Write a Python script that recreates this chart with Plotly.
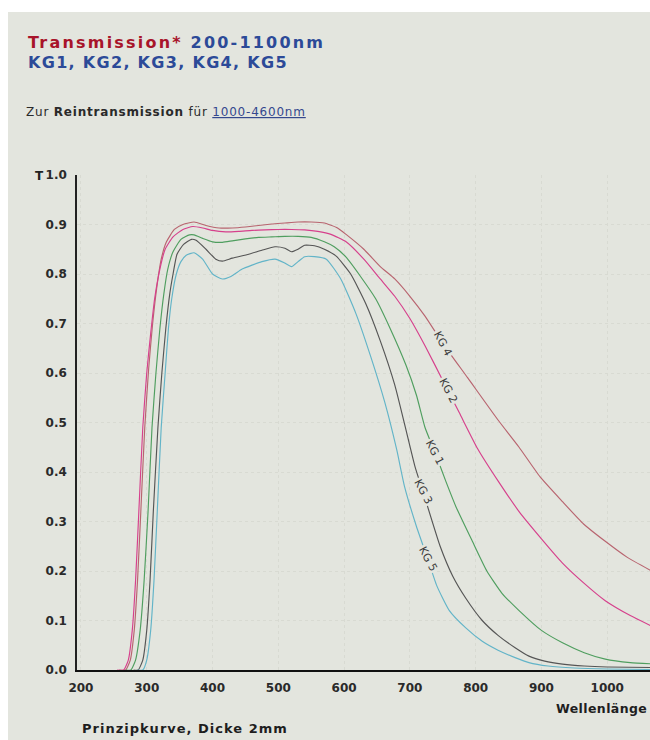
import numpy as np
import plotly.graph_objects as go

# ---------------- data ----------------
kg2_wl = [255, 265, 272, 278, 283, 288, 294, 300, 306, 312, 320, 328, 340, 355, 370, 385, 400, 420, 440, 460, 480,
          500, 520, 540, 560, 580, 603, 630, 655, 677, 700, 723, 750, 775, 803, 835, 866, 900, 932, 965, 997, 1035, 1073]
kg2_t = [0, 0, 0.02, 0.08, 0.18, 0.32, 0.49, 0.60, 0.68, 0.75, 0.81, 0.85, 0.875, 0.89, 0.896, 0.893, 0.888, 0.885,
         0.886, 0.888, 0.889, 0.89, 0.89, 0.889, 0.886, 0.88, 0.865, 0.83, 0.79, 0.755, 0.71, 0.655, 0.585, 0.52, 0.447,
         0.38, 0.32, 0.265, 0.216, 0.175, 0.14, 0.11, 0.085]

kg4_wl = [258, 268, 275, 281, 286, 291, 297, 303, 309, 315, 322, 330, 342, 355, 372, 390, 410, 430, 450, 470, 490,
          510, 530, 550, 570, 590, 603, 630, 655, 677, 700, 723, 750, 788, 834, 866, 898, 932, 964, 997, 1030, 1073]
kg4_t = [0, 0, 0.02, 0.08, 0.18, 0.32, 0.49, 0.61, 0.70, 0.77, 0.83, 0.865, 0.89, 0.90, 0.905, 0.898, 0.893, 0.893,
         0.895, 0.898, 0.901, 0.903, 0.905, 0.905, 0.903, 0.893, 0.88, 0.85, 0.815, 0.79, 0.755, 0.715, 0.66, 0.59,
         0.505, 0.45, 0.39, 0.34, 0.295, 0.26, 0.228, 0.196]

kg1_wl = [268, 276, 283, 290, 296, 302, 308, 314, 320, 326, 332, 340, 352, 365, 372, 385, 400, 415, 430, 450, 470,
          490, 510, 530, 550, 570, 585, 603, 625, 648, 670, 694, 710, 723, 738, 755, 770, 795, 817, 840, 866, 900,
          932, 965, 997, 1035, 1073]
kg1_t = [0, 0, 0.02, 0.08, 0.18, 0.32, 0.49, 0.60, 0.69, 0.76, 0.81, 0.845, 0.87, 0.879, 0.879, 0.872, 0.865, 0.864,
         0.867, 0.871, 0.874, 0.875, 0.876, 0.876, 0.874, 0.865, 0.855, 0.834, 0.795, 0.75, 0.69, 0.616, 0.555, 0.49,
         0.44, 0.38, 0.33, 0.26, 0.20, 0.155, 0.12, 0.08, 0.055, 0.035, 0.022, 0.015, 0.012]

kg3_wl = [280, 287, 294, 300, 305, 310, 317, 323, 329, 335, 340, 346, 356, 368, 375, 390, 405, 415, 430, 455, 475,
          495, 510, 520, 530, 540, 555, 570, 588, 610, 633, 655, 677, 695, 708, 720, 746, 765, 785, 810, 834, 860,
          881, 905, 932, 965, 1000, 1073]
kg3_t = [0, 0, 0.02, 0.08, 0.18, 0.32, 0.49, 0.60, 0.69, 0.76, 0.80, 0.84, 0.86, 0.87, 0.868, 0.85, 0.83, 0.826,
         0.832, 0.84, 0.848, 0.855, 0.852, 0.845, 0.85, 0.858, 0.857, 0.85, 0.836, 0.80, 0.74, 0.665, 0.576, 0.48,
         0.41, 0.36, 0.25, 0.19, 0.145, 0.10, 0.07, 0.045, 0.028, 0.018, 0.012, 0.008, 0.006, 0.005]

kg5_wl = [286, 294, 300, 306, 311, 316, 322, 328, 333, 338, 345, 352, 360, 372, 385, 400, 415, 428, 445, 460, 475,
          495, 510, 520, 530, 540, 555, 573, 595, 618, 640, 662, 680, 692, 710, 727, 741, 760, 785, 810, 834, 860,
          881, 910, 950, 1000, 1073]
kg5_t = [0, 0, 0.02, 0.08, 0.18, 0.32, 0.49, 0.60, 0.69, 0.75, 0.80, 0.825, 0.838, 0.843, 0.83, 0.80, 0.79, 0.795,
         0.81, 0.818, 0.825, 0.83, 0.822, 0.815, 0.825, 0.835, 0.835, 0.83, 0.79, 0.72, 0.635, 0.54, 0.445, 0.37,
         0.29, 0.225, 0.17, 0.12, 0.085, 0.058, 0.04, 0.025, 0.015, 0.008, 0.004, 0.002, 0.001]

series_names = ["KG4", "KG2", "KG1", "KG3", "KG5"]
label_texts = ["KG 4", "KG 2", "KG 1", "KG 3", "KG 5"]
label_wl = [750, 758, 738, 720, 727]

x_ticks = [200, 300, 400, 500, 600, 700, 800, 900, 1000]
y_ticks = [0.0, 0.1, 0.2, 0.3, 0.4, 0.5, 0.6, 0.7, 0.8, 0.9, 1.0]
y_tick_labels = ["0.0", "0.1", "0.2", "0.3", "0.4", "0.5", "0.6", "0.7", "0.8", "0.9", "1.0"]

# ---------------- style ----------------
W, H = 650, 740
ML, MR, MT, MB = 77, 0, 175, 70
PW, PH = W - ML - MR, H - MT - MB
X_RANGE = [194, 1065]
BG = "#e3e5de"
colors = {"KG4": "#b8646f", "KG2": "#d6408c", "KG1": "#4f9e5f", "KG3": "#555555", "KG5": "#62b4c8"}
BOLD = "DejaVu Sans"


def px2x(px):
    return (px - ML) / PW


def py2y(py):
    return (H - MB - py) / PH


data = {
    "KG4": (kg4_wl, kg4_t),
    "KG2": (kg2_wl, kg2_t),
    "KG1": (kg1_wl, kg1_t),
    "KG3": (kg3_wl, kg3_t),
    "KG5": (kg5_wl, kg5_t),
}

fig = go.Figure()
for name in series_names:
    wl, t = data[name]
    fig.add_trace(go.Scatter(x=wl, y=t, mode="lines", name=name,
                             line=dict(color=colors[name], width=1.15, shape="spline", smoothing=0.5),
                             hoverinfo="x+y+name"))

annotations = []
for name, txt, lw in zip(series_names, label_texts, label_wl):
    wl, t = data[name]
    ty = float(np.interp(lw, wl, t))
    annotations.append(dict(x=lw, y=ty, xref="x", yref="y", text=txt, showarrow=False,
                            textangle=62, bgcolor=BG, borderpad=1,
                            font=dict(family="DejaVu Sans", size=11, color="#3c3c3c")))

annotations += [
    dict(x=px2x(26), y=py2y(42), xref="paper", yref="paper", xanchor="left", yanchor="middle", showarrow=False,
         text="<span style='letter-spacing:2.2px'><b><span style='color:#a8142a'>Transmission*</span> "
              "<span style='color:#2c4a98'>200-1100nm</span></b></span>",
         font=dict(family=BOLD, size=16, color="#2c4a98")),
    dict(x=px2x(26), y=py2y(62), xref="paper", yref="paper", xanchor="left", yanchor="middle", showarrow=False,
         text="<span style='letter-spacing:1.3px'><b>KG1, KG2, KG3, KG4, KG5</b></span>",
         font=dict(family=BOLD, size=16, color="#2c4a98")),
    dict(x=px2x(24), y=py2y(112), xref="paper", yref="paper", xanchor="left", yanchor="middle", showarrow=False,
         text="<span style='letter-spacing:0.8px'>Zur <b>Reintransmission</b> für "
              "<span style='color:#34488e;text-decoration:underline'>1000-4600nm</span></span>",
         font=dict(family="DejaVu Sans", size=12, color="#2a2a2a")),
    dict(x=px2x(33), y=py2y(176), xref="paper", yref="paper", xanchor="left", yanchor="middle", showarrow=False,
         text="<b>T</b>", font=dict(family=BOLD, size=12, color="#222222")),
    dict(x=px2x(649), y=py2y(708), xref="paper", yref="paper", xanchor="right", yanchor="middle", showarrow=False,
         text="<span style='letter-spacing:0.4px'><b>Wellenlänge</b></span>",
         font=dict(family=BOLD, size=12.5, color="#1e1e1e")),
    dict(x=px2x(80), y=py2y(728), xref="paper", yref="paper", xanchor="left", yanchor="middle", showarrow=False,
         text="<span style='letter-spacing:1px'><b>Prinzipkurve, Dicke 2mm</b></span>",
         font=dict(family=BOLD, size=13, color="#1e1e1e")),
]

shapes = [
    dict(type="rect", xref="paper", yref="paper", x0=px2x(8), x1=px2x(652), y0=py2y(742), y1=py2y(12),
         fillcolor=BG, line=dict(width=0), layer="below"),
]

fig.update_layout(
    width=W, height=H, autosize=False,
    margin=dict(l=ML, r=MR, t=MT, b=MB, pad=0),
    paper_bgcolor="#ffffff", plot_bgcolor="rgba(0,0,0,0)",
    showlegend=False,
    annotations=annotations, shapes=shapes,
    xaxis=dict(range=X_RANGE, tickvals=x_ticks, ticktext=[f"<b>{v}</b>" for v in x_ticks],
               showline=True, linecolor="#111111", linewidth=2, ticks="", ticklabelstandoff=6,
               showgrid=True, gridcolor="#d8dad2", gridwidth=1, griddash="dot", zeroline=False,
               tickfont=dict(family=BOLD, size=12, color="#2a2a2a"), fixedrange=True),
    yaxis=dict(range=[0, 1.0], tickvals=y_ticks, ticktext=[f"<b>{s}</b>" for s in y_tick_labels],
               showline=True, linecolor="#222222", linewidth=1.5, ticks="", ticklabelstandoff=6,
               showgrid=True, gridcolor="#d8dad2", gridwidth=1, griddash="dot", zeroline=False,
               tickfont=dict(family=BOLD, size=12, color="#2a2a2a"), fixedrange=True),
)

fig.write_html("out.html", config={"displayModeBar": False},
               post_script="document.body.style.margin='0';document.body.style.overflow='hidden';")
